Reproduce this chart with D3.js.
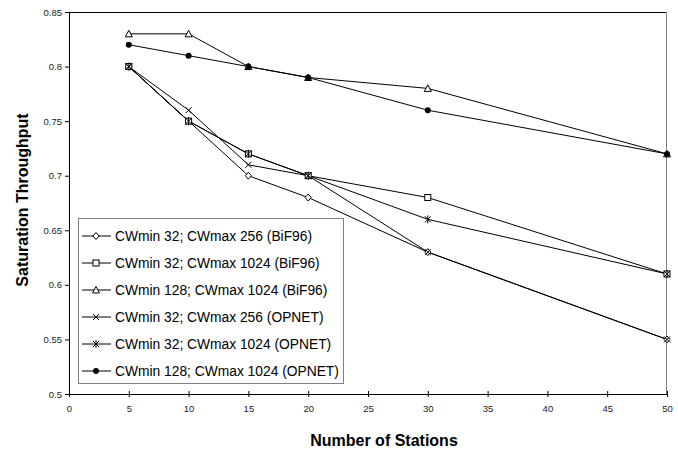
<!DOCTYPE html>
<html>
<head>
<meta charset="utf-8">
<script src="https://cdn.jsdelivr.net/npm/d3@7"></script>
<style>
  body { margin: 0; background: #fff; }
  svg { font-family: Arial, "Liberation Sans", sans-serif; }
</style>
</head>
<body>
<div id="chart"></div>
<script>
// Data
const stations = [5, 10, 15, 20, 30, 50];
const seriesNames = [
    "CWmin 32; CWmax 256 (BiF96)",
    "CWmin 32; CWmax 1024 (BiF96)",
    "CWmin 128; CWmax 1024 (BiF96)",
    "CWmin 32; CWmax 256 (OPNET)",
    "CWmin 32; CWmax 1024 (OPNET)",
    "CWmin 128; CWmax 1024 (OPNET)"
];
const markerTypes = ["diamond", "square", "triangle", "x", "asterisk", "circle"];
const cw32_256_bif = [0.80, 0.75, 0.70, 0.68, 0.63, 0.55];
const cw32_1024_bif = [0.80, 0.75, 0.72, 0.70, 0.68, 0.61];
const cw128_1024_bif = [0.83, 0.83, 0.80, 0.79, 0.78, 0.72];
const cw32_256_opnet = [0.80, 0.76, 0.71, 0.70, 0.63, 0.55];
const cw32_1024_opnet = [0.80, 0.75, 0.72, 0.70, 0.66, 0.61];
const cw128_1024_opnet = [0.82, 0.81, 0.80, 0.79, 0.76, 0.72];
const xTicks = [0, 5, 10, 15, 20, 25, 30, 35, 40, 45, 50];
const yTicks = [0.5, 0.55, 0.6, 0.65, 0.7, 0.75, 0.8, 0.85];

const allValues = [cw32_256_bif, cw32_1024_bif, cw128_1024_bif, cw32_256_opnet, cw32_1024_opnet, cw128_1024_opnet];
const series = seriesNames.map((name, i) => ({
    name: name,
    marker: markerTypes[i],
    points: stations.map((s, j) => ({ x: s, y: allValues[i][j] }))
}));

const width = 678, height = 450;
const margin = { top: 12, right: 11, bottom: 56, left: 69 };

const svg = d3.select("#chart")
    .append("svg")
    .attr("width", width)
    .attr("height", height);

const x = d3.scaleLinear().domain([0, 50]).range([margin.left, width - margin.right]);
const y = d3.scaleLinear().domain([0.5, 0.85]).range([height - margin.bottom, margin.top]);

// plot frame: top black, right grey
svg.append("line")
    .attr("x1", x(0)).attr("x2", x(50))
    .attr("y1", y(0.85) + 0.5).attr("y2", y(0.85) + 0.5)
    .attr("stroke", "#000");
svg.append("line")
    .attr("x1", x(50) - 0.5).attr("x2", x(50) - 0.5)
    .attr("y1", y(0.85)).attr("y2", y(0.5))
    .attr("stroke", "#808080");

// Axes
const xAxis = svg.append("g")
    .attr("transform", `translate(0,${y(0.5)})`)
    .call(d3.axisBottom(x).tickValues(xTicks).tickSize(3).tickPadding(8).tickFormat(d3.format("d")));
xAxis.selectAll(".tick line").attr("y1", -3);
xAxis.selectAll(".tick text").style("font-size", "9.5px").attr("fill", "#222");
xAxis.select(".domain").attr("d", `M${x(0)},0.5H${x(50)}`).attr("stroke", "#000");

const yAxis = svg.append("g")
    .attr("transform", `translate(${x(0)},0)`)
    .call(d3.axisLeft(y).tickValues(yTicks).tickSize(4).tickPadding(3).tickFormat(d => d3.format("")(+d.toFixed(2))));
yAxis.selectAll(".tick text").style("font-size", "9.5px").attr("fill", "#222");
yAxis.select(".domain").attr("d", `M0.5,${y(0.85)}V${y(0.5)}`).attr("stroke", "#000");

// Axis titles
svg.append("text")
    .attr("x", 384)
    .attr("y", 446)
    .style("text-anchor", "middle")
    .style("font-size", "16px")
    .style("font-weight", "bold")
    .text("Number of Stations");

svg.append("text")
    .attr("transform", `translate(28,200) rotate(-90)`)
    .style("text-anchor", "middle")
    .style("font-size", "16px")
    .style("font-weight", "bold")
    .text("Saturation Throughput");

// Marker drawing
function drawMarker(g, type) {
    if (type === "diamond") {
        g.append("path").attr("d", "M0,-3.5L3,0L0,3.5L-3,0Z").attr("fill", "#fff").attr("stroke", "#000");
    } else if (type === "square") {
        g.append("rect").attr("x", -3).attr("y", -3).attr("width", 6).attr("height", 6)
            .attr("fill", "#fff").attr("stroke", "#000");
    } else if (type === "triangle") {
        g.append("path").attr("d", "M0,-3.5L3.5,3L-3.5,3Z").attr("fill", "#fff").attr("stroke", "#000");
    } else if (type === "x") {
        g.append("path").attr("d", "M-3,-3L3,3M3,-3L-3,3").attr("stroke", "#000");
    } else if (type === "asterisk") {
        g.append("path").attr("d", "M-3,-3L3,3M3,-3L-3,3M0,-4L0,4").attr("stroke", "#000");
    } else if (type === "circle") {
        g.append("circle").attr("r", 3).attr("fill", "#000");
    }
}

const line = d3.line().x(d => x(d.x)).y(d => y(d.y));

series.forEach(s => {
    svg.append("path")
        .datum(s.points)
        .attr("d", line)
        .attr("fill", "none")
        .attr("stroke", "#000")
        .attr("stroke-width", 1);
});

series.forEach(s => {
    s.points.forEach(p => {
        const g = svg.append("g").attr("transform", `translate(${x(p.x)},${y(p.y)})`);
        drawMarker(g, s.marker);
    });
});

// Legend
const legend = svg.append("g").attr("class", "legend");
legend.append("rect")
    .attr("x", 78.5).attr("y", 218.5)
    .attr("width", 265).attr("height", 165)
    .attr("fill", "#fff")
    .attr("stroke", "#808080");

const legendItem = legend.selectAll(".legend-item")
    .data(series)
    .enter()
    .append("g")
    .attr("class", "legend-item")
    .attr("transform", (d, i) => `translate(0, ${236 + i * 27})`);

legendItem.append("line")
    .attr("x1", 82).attr("x2", 111)
    .attr("y1", 0).attr("y2", 0)
    .attr("stroke", "#000");

legendItem.each(function(d) {
    const g = d3.select(this).append("g").attr("transform", "translate(96,0)");
    drawMarker(g, d.marker);
});

legendItem.append("text")
    .attr("x", 115)
    .attr("y", 5)
    .style("font-size", "13.8px")
    .attr("fill", "#000")
    .text(d => d.name);
</script>
</body>
</html>
